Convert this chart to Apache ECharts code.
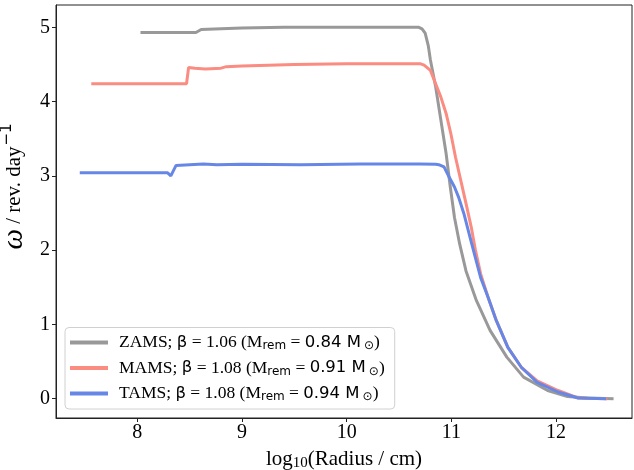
<!DOCTYPE html>
<html>
<head>
<meta charset="utf-8">
<script src="https://cdn.jsdelivr.net/npm/echarts@6/dist/echarts.min.js"></script>
<style>html,body{margin:0;padding:0;background:#fff;}#c{width:634px;height:470px;}</style>
</head>
<body>
<div id="c"></div>
<script>
var xTicks = [8, 9, 10, 11, 12];
var yTicks = [0, 1, 2, 3, 4, 5];

var zamsX = [8.03, 8.56, 8.61, 8.8, 9.0, 9.4, 10.0, 10.6, 10.69, 10.72, 10.75, 10.78, 10.80, 10.85, 10.90, 10.95, 10.99, 11.03, 11.08, 11.14, 11.24, 11.37, 11.53, 11.69, 11.92, 12.11, 12.30, 12.55];
var zamsY = [4.93, 4.93, 4.97, 4.98, 4.99, 5.0, 5.0, 5.0, 5.0, 4.98, 4.92, 4.75, 4.56, 4.20, 3.75, 3.30, 2.85, 2.44, 2.08, 1.72, 1.32, 0.92, 0.56, 0.29, 0.11, 0.03, 0.01, 0.0];

var mamsX = [7.56, 8.47, 8.49, 8.55, 8.65, 8.8, 8.85, 9.0, 9.5, 10.0, 10.6, 10.70, 10.74, 10.80, 10.85, 10.90, 10.95, 10.995, 11.04, 11.09, 11.14, 11.19, 11.23, 11.28, 11.35, 11.43, 11.54, 11.67, 11.82, 12.02, 12.21, 12.49];
var mamsY = [4.24, 4.24, 4.46, 4.45, 4.44, 4.45, 4.47, 4.48, 4.50, 4.51, 4.51, 4.51, 4.49, 4.42, 4.24, 4.06, 3.84, 3.57, 3.25, 2.94, 2.63, 2.31, 2.0, 1.68, 1.37, 1.05, 0.69, 0.42, 0.24, 0.11, 0.01, 0.0];

var tamsX = [7.45, 8.29, 8.32, 8.37, 8.5, 8.63, 8.76, 9.0, 9.56, 10.13, 10.7, 10.85, 10.88, 10.93, 10.98, 11.03, 11.07, 11.12, 11.17, 11.22, 11.28, 11.35, 11.43, 11.54, 11.67, 11.82, 12.02, 12.21, 12.48];
var tamsY = [3.04, 3.04, 3.0, 3.14, 3.15, 3.16, 3.15, 3.155, 3.15, 3.16, 3.16, 3.155, 3.15, 3.12, 2.98, 2.85, 2.71, 2.49, 2.22, 1.95, 1.63, 1.37, 1.05, 0.69, 0.42, 0.22, 0.09, 0.01, 0.0];

var seriesNames = ['ZAMS', 'MAMS', 'TAMS'];
var betas = ['1.06', '1.08', '1.08'];
var mrems = ['0.84', '0.91', '0.94'];
var colors = ['#999999', '#fa8c82', '#6787e7'];

function pairs(xs, ys) { return xs.map(function (x, i) { return [x, ys[i]]; }); }

var SERIF = '"Liberation Serif", "DejaVu Serif", serif';
var SANS = '"DejaVu Sans", sans-serif';

var chart = echarts.init(document.getElementById('c'), null, { renderer: 'canvas' });
var allData = [pairs(zamsX, zamsY), pairs(mamsX, mamsY), pairs(tamsX, tamsY)];

chart.setOption({
  animation: false,
  grid: { left: 56, right: 2, top: 5, bottom: 52, show: true, borderColor: '#222', borderWidth: 1, containLabel: false, outerBoundsMode: 'none' },
  xAxis: {
    type: 'value', min: 7.223, max: 12.726,
    splitLine: { show: false },
    axisLine: { show: true, onZero: false, lineStyle: { color: '#222', width: 1 } },
    axisTick: { show: true, length: 4, lineStyle: { color: '#222' }, customValues: xTicks },
    axisLabel: { customValues: xTicks, color: '#000', fontFamily: SERIF, fontSize: 20, margin: 5 },
    name: '{s|log}{sub|10}{s|(Radius / cm)}',
    nameLocation: 'middle', nameGap: 29,
    nameTextStyle: {
      rich: {
        s: { fontFamily: SERIF, fontSize: 21, color: '#000' },
        sub: { fontFamily: SERIF, fontSize: 15, color: '#000', verticalAlign: 'bottom', padding: [9, 0, 0, 0] }
      }
    }
  },
  yAxis: {
    type: 'value', min: -0.26, max: 5.3,
    splitLine: { show: false },
    axisLine: { show: true, onZero: false, lineStyle: { color: '#222', width: 1 } },
    axisTick: { show: true, length: 4, lineStyle: { color: '#222' }, customValues: yTicks },
    axisLabel: { customValues: yTicks, color: '#000', fontFamily: SERIF, fontSize: 20, margin: 6 },
    name: '{w|ω}{s| / rev. day}{sup|−1}',
    nameLocation: 'middle', nameGap: 25, nameRotate: 90,
    nameTextStyle: {
      padding: [0, 0, 0, 50],
      rich: {
        w: { fontFamily: SERIF, fontStyle: 'italic', fontSize: 29, color: '#000' },
        s: { fontFamily: SERIF, fontSize: 21, color: '#000' },
        sup: { fontFamily: SANS, fontSize: 15, color: '#000', verticalAlign: 'top', padding: [0, 0, 10, 1] }
      }
    }
  },
  legend: {
    left: 65, bottom: 61, orient: 'vertical',
    padding: [6, 10, 6, 5], itemGap: 7,
    borderColor: '#d0d0d0', borderWidth: 1, borderRadius: 4,
    backgroundColor: 'rgba(255,255,255,0.8)',
    icon: 'rect', itemWidth: 38, itemHeight: 4,
    data: seriesNames,
    formatter: function (name) {
      var i = seriesNames.indexOf(name);
      return '{s|' + name + '; }{d|β}{s| = ' + betas[i] + ' (M}{sub|rem}{s| = }{d|' + mrems[i] + ' M}{sub2|⊙}{s|)}';
    },
    textStyle: {
      padding: [0, 0, 0, 6],
      rich: {
        s: { fontFamily: SERIF, fontSize: 17.5, color: '#000' },
        d: { fontFamily: SANS, fontSize: 16.5, color: '#000' },
        sub: { fontFamily: SANS, fontSize: 12, color: '#000', verticalAlign: 'bottom', padding: [7, 0, 0, 0] },
        sub2: { fontFamily: SANS, fontSize: 12, color: '#000', verticalAlign: 'bottom', padding: [7, 0, 0, 3] }
      }
    }
  },
  series: seriesNames.map(function (n, i) {
    return {
      name: n, type: 'line', data: allData[i], showSymbol: false, symbol: 'none',
      lineStyle: { color: colors[i], width: 3 }, itemStyle: { color: colors[i] }, z: 2 + i
    };
  })
});
</script>
</body>
</html>
